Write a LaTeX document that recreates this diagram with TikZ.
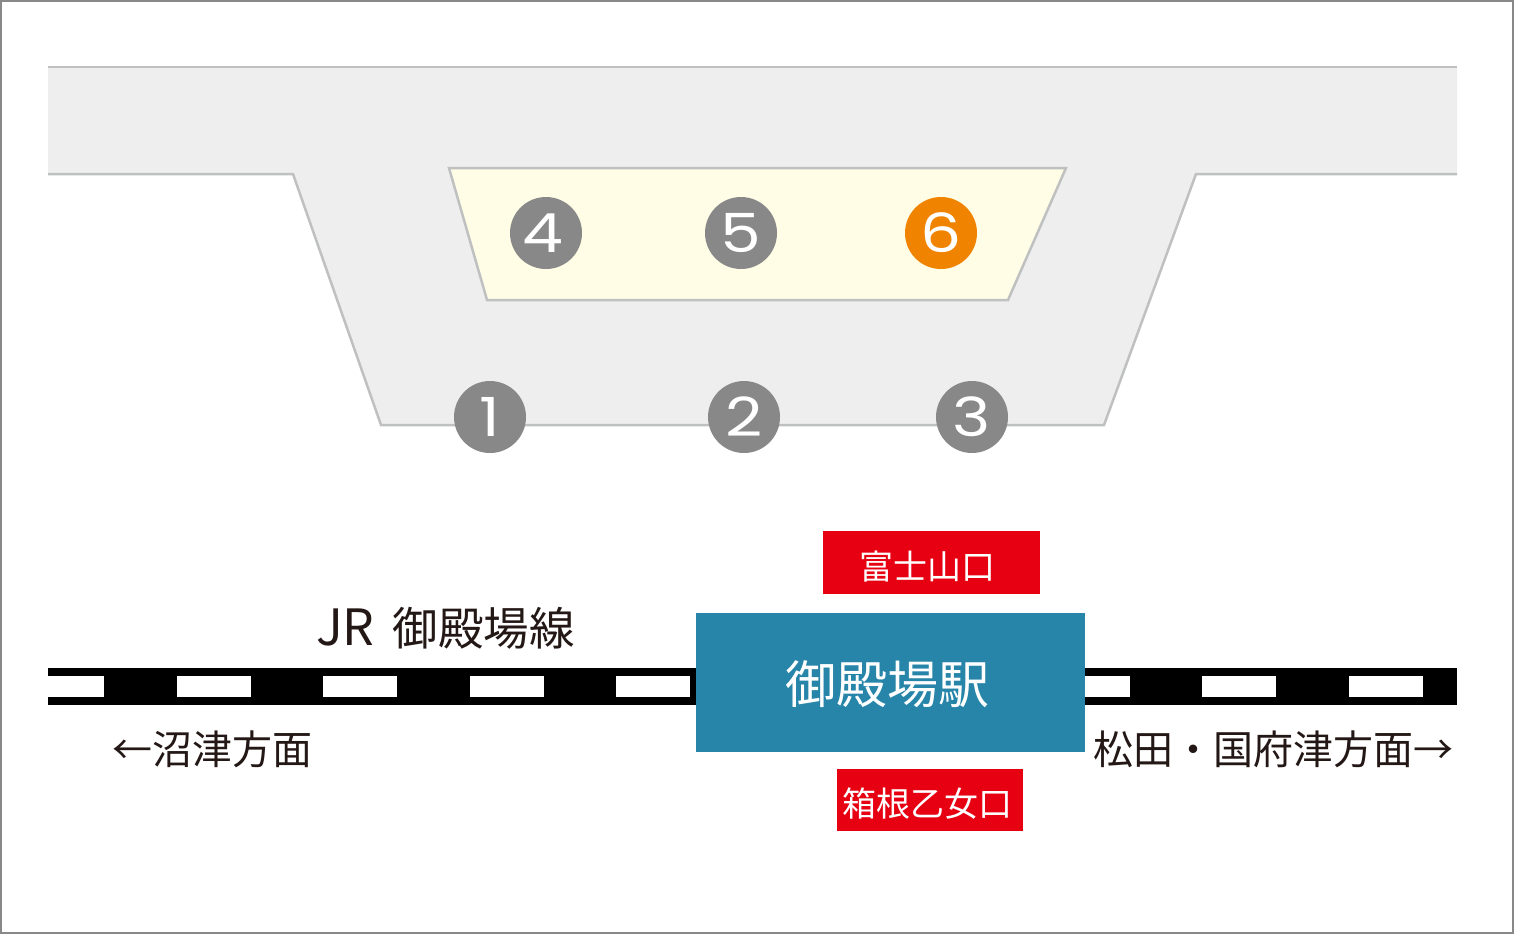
\documentclass[tikz,border=0pt]{standalone}
\usepackage{xcolor}
\usepackage{fontspec}
\usepackage{tikz}
\setmainfont{Noto Sans CJK JP}
\newfontfamily\numfont[FakeStretch=1.2]{Poppins}
\definecolor{platformgray}{HTML}{EEEEEE}
\definecolor{edgegray}{HTML}{BFC0C0}
\definecolor{platformyellow}{HTML}{FFFDE6}
\definecolor{numgray}{HTML}{888888}
\definecolor{numorange}{HTML}{F08300}
\definecolor{exitred}{HTML}{E60012}
\definecolor{stationblue}{HTML}{2785A9}
\definecolor{inkblack}{HTML}{231815}
\tikzset{
  busstop/.style={circle, fill=numgray, text=white, minimum size=72pt, inner sep=0pt, font=\numfont\fontsize{54}{54}\selectfont},
  exitbox/.style={fill=exitred, inner sep=0pt},
  exittext/.style={text=white, inner sep=0pt, font=\fontsize{34}{34}\selectfont},
  dirlabel/.style={text=inkblack, inner sep=0pt, font=\fontsize{40}{40}\selectfont},
}

\begin{document}
\begin{tikzpicture}[x=1pt, y=-1pt]
      \useasboundingbox (0,0) rectangle (1514,934);
      \draw[numgray, line width=2pt] (1,1) rectangle (1513,933);
      % rotary
      \fill[platformgray] (48,67) -- (1457,67) -- (1457,174) -- (1196,174) -- (1104,425) -- (381,425) -- (293,174) -- (48,174) -- cycle;
      \draw[edgegray, line width=2.5pt] (48,67) -- (1457,67);
      \draw[edgegray, line width=2.5pt] (1457,174) -- (1196,174) -- (1104,425) -- (381,425) -- (293,174) -- (48,174);
      \draw[edgegray, line width=2.5pt, fill=platformyellow] (449,168) -- (1066,168) -- (1008,300) -- (487,300) -- cycle;
      % stops
      \node[busstop] (stopone) at (490,417) {1};
      \node[busstop] (stoptwo) at (744,417) {2};
      \node[busstop] (stopthree) at (972,417) {3};
      \node[busstop] (stopfour) at (546,233) {\kern-6pt 4};
      \node[busstop] (stopfive) at (741,233) {5};
      \node[busstop, fill=numorange] (stopsix) at (941,233) {6};
      % track
      \fill[black] (48,668) rectangle (1457,705);
      \fill[white] (48,676) rectangle (104,697);
      \foreach \x in {177,323,470,616,1202,1349}
        \fill[white] (\x,676) rectangle ++(74,21);
      \fill[white] (1085,676) rectangle (1130,697);
      % station
      \node[fill=stationblue, minimum width=389pt, minimum height=139pt, inner sep=0pt] (station) at (890.5,682.5) {};
      \node[text=white, inner sep=0pt, font=\fontsize{51}{51}\selectfont] (stationname) at (887,684.5) {御殿場駅};
      \node[exitbox, minimum width=217pt, minimum height=63pt] (exitnorth) at (931.5,562.5) {};
      \node[exittext] (exitnorthname) at (927.5,566.5) {富士山口};
      \node[exitbox, minimum width=186pt, minimum height=62pt] (exitsouth) at (930,800) {};
      \node[exittext] (exitsouthname) at (927,804) {箱根乙女口};
      \node[dirlabel, font=\fontsize{45.5}{45.5}\selectfont] (linename) at (445.5,628) {{\fontsize{50}{50}\selectfont JR}\hspace{8pt} 御殿場線};
      \node[dirlabel] (dirwest) at (212,749) {←沼津方面};
      \node[dirlabel] (direast) at (1273,749) {松田・国府津方面→};
    \end{tikzpicture}
\end{document}
